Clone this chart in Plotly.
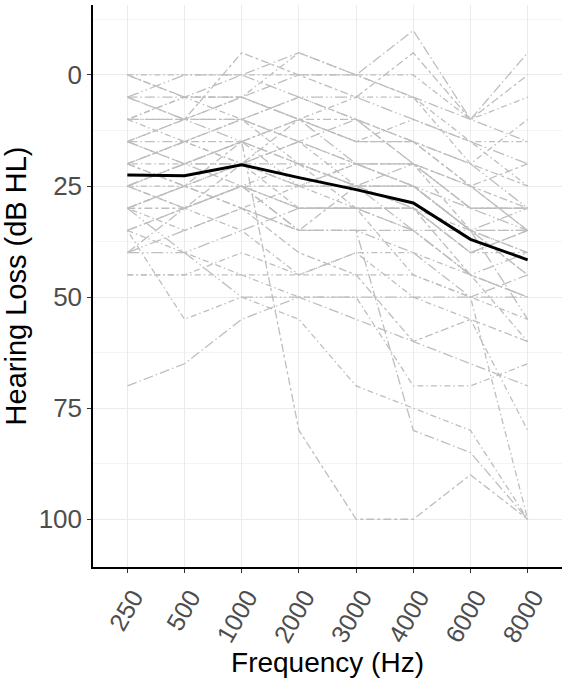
import plotly.graph_objects as go

frequencies = ["250", "500", "1000", "2000", "3000", "4000", "6000", "8000"]

# individual audiograms (dB HL) per subject
subjects = [
    [0, 0, 0, 0, 0, 0, 10, 5],
    [5, 5, 0, -5, 0, -10, 10, -5],
    [5, 10, -5, 0, 5, -5, 10, 0],
    [10, 5, 5, -5, 0, 5, 20, 10],
    [10, 10, 10, 5, 10, 15, 20, 30],
    [15, 10, 5, 10, 5, 5, 15, 25],
    [15, 15, 10, 15, 10, 20, 25, 35],
    [20, 15, 15, 10, 15, 15, 25, 20],
    [20, 20, 15, 20, 20, 20, 30, 30],
    [25, 20, 20, 15, 20, 25, 35, 40],
    [25, 25, 20, 25, 25, 30, 35, 45],
    [30, 25, 20, 20, 25, 20, 30, 30],
    [30, 30, 25, 30, 30, 30, 45, 50],
    [35, 55, 50, 55, 70, 75, 80, 100],
    [40, 35, 30, 35, 35, 35, 45, 40],
    [45, 45, 45, 45, 45, 45, 50, 55],
    [70, 65, 55, 50, 55, 60, 65, 70],
    [20, 25, 15, 80, 100, 100, 90, 100],
    [0, 5, 10, 20, 25, 25, 35, 45],
    [5, 10, 15, 25, 25, 35, 35, 55],
    [10, 15, 20, 30, 30, 45, 50, 100],
    [15, 20, 25, 35, 35, 80, 85, 100],
    [20, 25, 30, 40, 45, 60, 55, 60],
    [25, 30, 35, 45, 40, 50, 55, 80],
    [30, 40, 50, 50, 50, 50, 50, 50],
    [35, 40, 45, 50, 50, 70, 70, 65],
    [40, 30, 25, 30, 30, 30, 40, 35],
    [15, 10, 10, 15, 20, 20, 25, 30],
    [10, 5, 5, 10, 15, 10, 15, 15],
    [5, 0, 0, 5, 5, 10, 15, 20],
    [20, 15, 10, 5, 10, 20, 35, 40],
    [25, 20, 15, 20, 25, 25, 35, 35],
    [30, 25, 30, 35, 25, 30, 40, 35],
    [35, 30, 25, 25, 30, 30, 40, 40],
    [40, 40, 35, 30, 30, 35, 45, 50],
    [45, 45, 40, 45, 40, 40, 45, 60],
    [10, 10, 5, 0, 0, 5, 10, 15],
    [25, 30, 20, 10, 15, 15, 20, 25],
    [30, 35, 30, 25, 20, 20, 30, 30],
    [15, 20, 20, 25, 20, 25, 35, 30],
    [20, 15, 20, 15, 25, 25, 35, 35],
    [35, 30, 25, 35, 35, 40, 50, 45],
    [0, 5, 5, 10, 10, 15, 25, 35],
    [30, 25, 25, 20, 30, 35, 45, 50],
    [25, 20, 15, 10, 20, 25, 30, 35],
]

# group mean line
mean_loss = [22.5, 22.7, 20.2, 23.1, 25.8, 28.8, 37.0, 41.6]

dash_styles = [
    "6px,3px,1.5px,3px",
    "10px,3px,1.5px,3px",
    "8px,3px,3px,3px",
    "1.5px,3px,6px,3px",
    "12px,3px,1.5px,3px,1.5px,3px",
]

fig = go.Figure()
for i, s in enumerate(subjects):
    fig.add_trace(go.Scatter(
        x=frequencies, y=s, mode="lines",
        line=dict(color="#BEBEBE", width=1.3, dash=dash_styles[i % len(dash_styles)]),
        showlegend=False, hoverinfo="skip"))

fig.add_trace(go.Scatter(
    x=frequencies, y=mean_loss, mode="lines",
    line=dict(color="black", width=3),
    showlegend=False))

fig.update_layout(
    width=567, height=682,
    margin=dict(l=93, r=5, t=5, b=115),
    paper_bgcolor="white", plot_bgcolor="white",
    font=dict(family="Liberation Sans, Arial, sans-serif"),
)

fig.update_xaxes(
    type="category",
    range=[-0.6, 7.6],
    automargin=False,
    showgrid=True, gridcolor="#EBEBEB", gridwidth=1,
    showline=True, linecolor="black", linewidth=1.5,
    ticks="outside", ticklen=4, tickcolor="#333333",
    tickangle=-60,
    ticklabelshift=6,
    tickfont=dict(size=25, color="#4D4D4D"),
    title=dict(text="Frequency (Hz)", font=dict(size=28, color="black"), standoff=4),
    zeroline=False,
)

fig.update_yaxes(
    range=[110.75, -15.75],
    automargin=False,
    tickvals=[0, 25, 50, 75, 100],
    showgrid=True, gridcolor="#EBEBEB", gridwidth=1,
    minor=dict(tickvals=[-12.5, 12.5, 37.5, 62.5, 87.5], showgrid=True,
               gridcolor="#F4F4F4", gridwidth=1, ticks=""),
    showline=True, linecolor="black", linewidth=1.5,
    ticks="outside", ticklen=4, tickcolor="#333333",
    tickfont=dict(size=26, color="#4D4D4D"),
    title=dict(text="Hearing Loss (dB HL)", font=dict(size=29, color="black"), standoff=6),
    zeroline=False,
)

fig.write_html("out.html")
